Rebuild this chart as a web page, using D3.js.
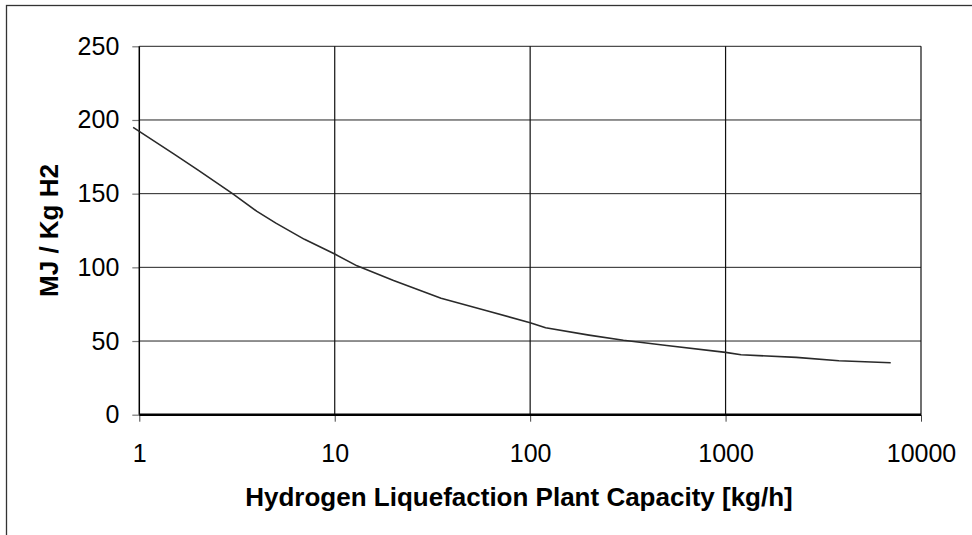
<!DOCTYPE html>
<html>
<head>
<meta charset="utf-8">
<script src="https://cdn.jsdelivr.net/npm/d3@7"></script>
<style>
  body { margin: 0; background: #fff; }
  svg { display: block; font-family: "Liberation Sans", Arial, sans-serif; }
</style>
</head>
<body>
<svg id="chart" width="972" height="535"></svg>
<script>
'use strict';

// plant capacity in kg/h and specific energy in MJ per kg H2
let capacity = [0.93, 1.5, 2, 3, 4, 5, 7, 10, 13, 20, 35, 60, 100, 120, 200, 300, 500, 1000, 1200, 2300, 3800, 7000]
let energy = [195, 177, 166, 150, 138, 130, 119, 109, 101, 91, 79, 70.5, 62.4, 59, 54, 50.5, 47, 42.3, 40.7, 38.9, 36.6, 35.3]

let xTicks = [1, 10, 100, 1000, 10000]
let yTicks = [0, 50, 100, 150, 200, 250]
let xTitle = "Hydrogen Liquefaction Plant Capacity [kg/h]"
let yTitle = "MJ / Kg H2"

let svg = d3.select("#chart")
let width = +svg.attr("width")
let height = +svg.attr("height")
let margin = { top: 46.3, right: 51, bottom: 120.3, left: 139.3 }
let w = width - margin.left - margin.right
let h = height - margin.top - margin.bottom

// outer frame of the chart area
svg.append("rect")
    .attr("x", 6.5).attr("y", 5.5)
    .attr("width", 1000).attr("height", 600)
    .attr("fill", "none")
    .attr("stroke", "#333")
    .attr("stroke-width", 1.3)

let g = svg.append("g")
    .attr("transform", "translate(" + margin.left + "," + margin.top + ")")

let x = d3.scaleLog().domain([1, 10000]).range([0, w])
let y = d3.scaleLinear().domain([0, 250]).range([h, 0])

// gridlines
g.append("g")
    .selectAll("line")
    .data(yTicks.filter(d => d > 0))
    .enter().append("line")
    .attr("x1", 0).attr("x2", w)
    .attr("y1", d => y(d)).attr("y2", d => y(d))
    .attr("stroke", "#222").attr("stroke-width", 1)

g.append("g")
    .selectAll("line")
    .data(xTicks.filter(d => d > 1))
    .enter().append("line")
    .attr("x1", d => x(d)).attr("x2", d => x(d))
    .attr("y1", 0).attr("y2", h)
    .attr("stroke", "#111").attr("stroke-width", 1.2)

// axes
let yAxis = g.append("g")
    .call(d3.axisLeft(y).tickValues(yTicks).tickSize(7).tickPadding(13))
yAxis.select(".domain").remove()
yAxis.selectAll(".tick line").attr("stroke", "#777").attr("stroke-width", 1.2)
yAxis.selectAll(".tick text").attr("font-size", 25).attr("fill", "#000")

let xAxis = g.append("g")
    .attr("transform", "translate(0," + h + ")")
    .call(d3.axisBottom(x).tickValues(xTicks).tickFormat(d3.format("d")).tickSize(7).tickPadding(22.5))
xAxis.select(".domain").remove()
xAxis.selectAll(".tick line").attr("stroke", "#444").attr("stroke-width", 1)
xAxis.selectAll(".tick text").attr("font-size", 25).attr("fill", "#000")

// left axis line and heavy zero line
g.append("line")
    .attr("x1", 0).attr("x2", 0).attr("y1", 0).attr("y2", h)
    .attr("stroke", "#000").attr("stroke-width", 1.5)
g.append("line")
    .attr("x1", 0).attr("x2", w).attr("y1", y(0)).attr("y2", y(0))
    .attr("stroke", "#000").attr("stroke-width", 2.5)

// curve
let line = d3.line()
    .x(function(d, i) { return x(capacity[i]); })
    .y(function(d) { return y(d); })

g.append("path")
    .datum(energy)
    .attr("d", line)
    .attr("fill", "none")
    .attr("stroke", "#2a2a2a")
    .attr("stroke-width", 1.6)
    .attr("stroke-linejoin", "round")

// axis titles
svg.append("text")
    .attr("x", 519).attr("y", 506)
    .attr("text-anchor", "middle")
    .attr("font-size", 26).attr("font-weight", "bold")
    .text(xTitle)

svg.append("text")
    .attr("transform", "translate(58," + (margin.top + h / 2) + ") rotate(-90)")
    .attr("text-anchor", "middle")
    .attr("font-size", 26).attr("font-weight", "bold")
    .text(yTitle)
</script>
</body>
</html>
